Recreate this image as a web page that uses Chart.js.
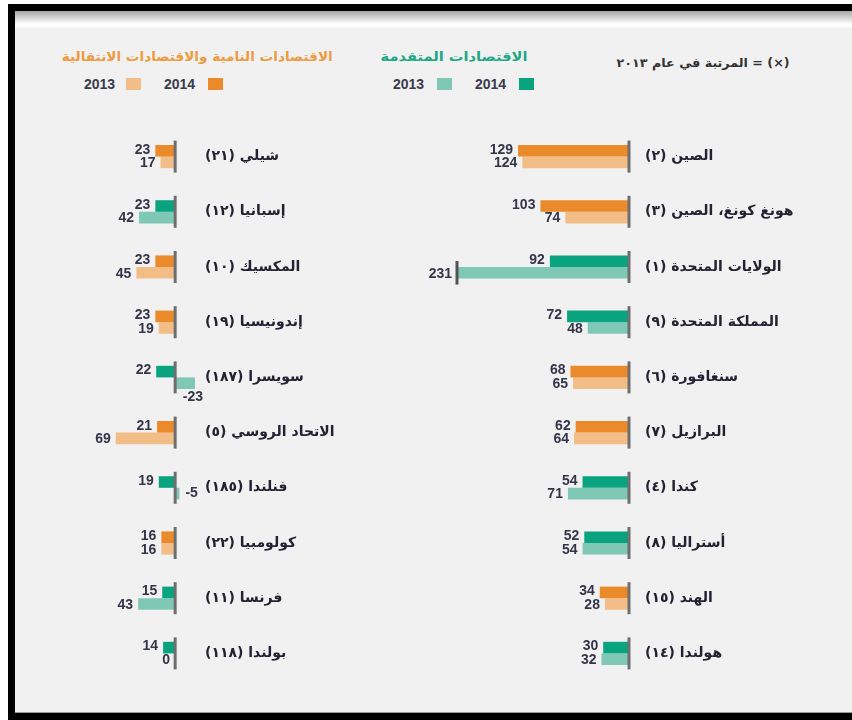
<!DOCTYPE html>
<html lang="ar">
<head>
<meta charset="utf-8">
<script src="https://cdn.jsdelivr.net/npm/chart.js@4.4.1/dist/chart.umd.min.js"></script>
<style>
  body { margin: 0; width: 852px; height: 720px; background: #fff; position: relative; overflow: hidden; font-family: "DejaVu Sans", sans-serif; }
  #frame { position: absolute; left: 8px; top: 4px; width: 860px; height: 702px; border: 7px solid #000; border-right: none;
           background: linear-gradient(to bottom, #a6a6a6 0px, #ffffff 13px, #ffffff 16px, #f1f1f1 17px);
           box-shadow: inset 0 -1px 0 #9a9a9a; }
  .hdr { position: absolute; direction: rtl; white-space: nowrap; font-size: 13px; font-weight: bold; transform-origin: right center; }
  .orange { color: #ee9a3e; }
  .teal { color: #20a886; }
  .note { color: #333; font-size: 12px; }
  .leg { position: absolute; font: bold 14px "Liberation Sans", Arial, sans-serif; color: #3a3a4a; line-height: 14px; }
  .sq { position: absolute; width: 15px; height: 12px; }
  canvas { position: absolute; direction: rtl; }
</style>
</head>
<body>
<div id="frame"></div>

<div class="hdr orange" data-right="333" data-w="271" style="top:49px;">الاقتصادات النامية والاقتصادات الانتقالية</div>
<div class="hdr teal" data-right="528" data-w="147" style="top:49px;">الاقتصادات المتقدمة</div>
<div class="hdr note" data-right="790" data-w="173" style="top:56px;">(×) = المرتبة في عام ٢٠١٣</div>

<div class="leg" style="left:84px; top:77px;">2013</div>
<div class="sq" style="left:126px; top:78px; background:#f3bd88;"></div>
<div class="leg" style="left:164px; top:77px;">2014</div>
<div class="sq" style="left:208px; top:78px; background:#ea8a2b;"></div>

<div class="leg" style="left:393px; top:77px;">2013</div>
<div class="sq" style="left:437px; top:78px; background:#80c8b6;"></div>
<div class="leg" style="left:475px; top:77px;">2014</div>
<div class="sq" style="left:519px; top:78px; background:#0aa37f;"></div>

<canvas id="leftChart" width="400" height="632" style="left:40px; top:89px;"></canvas>
<canvas id="rightChart" width="452" height="632" style="left:400px; top:89px;"></canvas>

<script>
// الاقتصادات: dev = النامية والانتقالية، adv = المتقدمة
const rightLabels = ['الصين (٢)', 'هونغ كونغ، الصين (٣)', 'الولايات المتحدة (١)', 'المملكة المتحدة (٩)', 'سنغافورة (٦)',
                     'البرازيل (٧)', 'كندا (٤)', 'أستراليا (٨)', 'الهند (١٥)', 'هولندا (١٤)'];
const right2014 = [129, 103, 92, 72, 68, 62, 54, 52, 34, 30];
const right2013 = [124, 74, 231, 48, 65, 64, 71, 54, 28, 32];
const rightGroups = ['dev', 'dev', 'adv', 'adv', 'dev', 'dev', 'adv', 'adv', 'dev', 'adv'];

const leftLabels = ['شيلي (٢١)', 'إسبانيا (١٢)', 'المكسيك (١٠)', 'إندونيسيا (١٩)', 'سويسرا (١٨٧)',
                    'الاتحاد الروسي (٥)', 'فنلندا (١٨٥)', 'كولومبيا (٢٢)', 'فرنسا (١١)', 'بولندا (١١٨)'];
const left2014 = [23, 23, 23, 23, 22, 21, 19, 16, 15, 14];
const left2013 = [17, 42, 45, 19, -23, 69, -5, 16, 43, 0];
const leftGroups = ['dev', 'adv', 'dev', 'dev', 'adv', 'dev', 'adv', 'dev', 'adv', 'adv'];

const palette = {
  dev: { y2014: '#ea8a2b', y2013: '#f3bd88' },
  adv: { y2014: '#0aa37f', y2013: '#80c8b6' }
};

// stretch header texts to the width they have in the original
document.querySelectorAll('.hdr').forEach(el => {
  const w = el.getBoundingClientRect().width;
  const target = +el.dataset.w;
  el.style.left = (+el.dataset.right - w) + 'px';
  el.style.transform = 'scaleX(' + (target / w) + ')';
});

// zero line segments, clip marker and value labels
const barMarks = {
  id: 'barMarks',
  afterDatasetsDraw(chart) {
    const { ctx, chartArea, scales: { x, y } } = chart;
    const zero = x.getPixelForValue(0);
    ctx.save();
    ctx.strokeStyle = '#6e6e6e';
    ctx.lineWidth = 3;
    chart.data.labels.forEach((l, i) => {
      const cy = y.getPixelForValue(i);
      ctx.beginPath();
      ctx.moveTo(zero, cy - 16);
      ctx.lineTo(zero, cy + 16);
      ctx.stroke();
    });

    ctx.direction = 'ltr';
    ctx.font = 'bold 14px "Liberation Sans", Arial, sans-serif';
    ctx.fillStyle = '#35354a';
    chart.data.datasets.forEach((ds, di) => {
      const meta = chart.getDatasetMeta(di);
      meta.data.forEach((bar, i) => {
        const v = ds.data[i];
        const txt = String(v);
        let bx = bar.x;
        if (v > x.max) {
          bx = x.getPixelForValue(x.max);
          ctx.strokeStyle = '#555';
          ctx.beginPath();
          ctx.moveTo(bx, bar.y - bar.height / 2 - 6);
          ctx.lineTo(bx, bar.y + bar.height / 2 + 6);
          ctx.stroke();
        }
        if (v >= 0) {
          ctx.textAlign = 'right';
          ctx.textBaseline = 'middle';
          ctx.fillText(txt, bx - 5, bar.y + (di === 0 ? -1 : 1));
        } else {
          const w = ctx.measureText(txt).width;
          if (bx + 6 + w > chartArea.right) {
            ctx.textAlign = 'center';
            ctx.textBaseline = 'top';
            ctx.fillText(txt, bx - 2, bar.y + bar.height / 2 + 1);
          } else {
            ctx.textAlign = 'left';
            ctx.textBaseline = 'middle';
            ctx.fillText(txt, bx + 6, bar.y);
          }
        }
      });
    });
    ctx.restore();
  }
};

function makeChart(id, labels, v2014, v2013, groups, xMin, xMax, padLeft, axisWidth, tickPad) {
  const ctx = document.getElementById(id).getContext('2d');
  return new Chart(ctx, {
    type: 'bar',
    data: {
      labels: labels,
      datasets: [
        { label: '2014', data: v2014, backgroundColor: groups.map(g => palette[g].y2014) },
        { label: '2013', data: v2013, backgroundColor: groups.map(g => palette[g].y2013) }
      ]
    },
    options: {
      indexAxis: 'y',
      responsive: false,
      animation: false,
      devicePixelRatio: 1,
      categoryPercentage: 0.42,
      barPercentage: 1.0,
      layout: { padding: { left: padLeft, right: 0, top: 40, bottom: 40 } },
      scales: {
        x: { display: false, min: xMin, max: xMax, reverse: true },
        y: {
          position: 'right',
          grid: { display: false, drawTicks: false },
          border: { display: false },
          ticks: {
            padding: tickPad,
            color: '#222232',
            font: { family: '"DejaVu Sans", sans-serif', size: 14, weight: 'bold' }
          },
          afterFit: axis => { axis.width = axisWidth; }
        }
      },
      plugins: { legend: { display: false }, tooltip: { enabled: false } }
    },
    plugins: [barMarks]
  });
}

makeChart('leftChart', leftLabels, left2014, left2013, leftGroups, -30, 100, 49, 239, 4);
makeChart('rightChart', rightLabels, right2014, right2013, rightGroups, 0, 200, 57, 223, 16);
</script>
</body>
</html>
